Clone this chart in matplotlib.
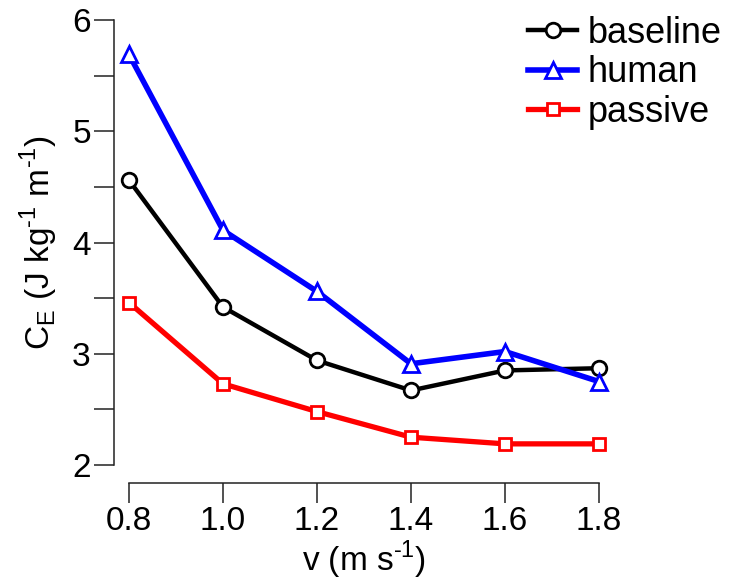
import matplotlib
matplotlib.use('Agg')
import matplotlib.pyplot as plt

plt.rcParams['font.family'] = ['Liberation Sans', 'DejaVu Sans']
plt.rcParams['mathtext.fontset'] = 'custom'
plt.rcParams['mathtext.rm'] = 'Liberation Sans'

# Datos
speed = [0.8, 1.0, 1.2, 1.4, 1.6, 1.8]
baseline = [4.56, 3.42, 2.94, 2.67, 2.85, 2.87]
human = [5.69, 4.11, 3.56, 2.91, 3.02, 2.75]
passive = [3.46, 2.73, 2.48, 2.25, 2.19, 2.19]
xticks = [0.8, 1.0, 1.2, 1.4, 1.6, 1.8]
xtick_labels = ['0.8', '1.0', '1.2', '1.4', '1.6', '1.8']
yticks = [2, 3, 4, 5, 6]

fig = plt.figure(figsize=(7.45, 5.85), dpi=100)
ax = fig.add_axes([129 / 745, (585 - 465) / 585, (599 - 129) / 745, (465 - 20) / 585])

mk = dict(markerfacecolor='white', markeredgewidth=2.0, clip_on=False)
ax.plot(speed, baseline, color='black', lw=3.2, marker='o', markersize=10.5,
        label='baseline', **mk)
ax.plot(speed, human, color='#0000ff', lw=4.0, marker='^', markersize=12,
        label='human', **mk)
ax.plot(speed, passive, color='#ff0000', lw=3.8, marker='s', markersize=9,
        label='passive', **mk)

ax.set_xlim(0.8, 1.8)
ax.set_ylim(2, 6)
ax.set_xticks(xticks)
ax.set_xticklabels(xtick_labels)
ax.set_yticks(yticks)
ax.set_yticks([2.5, 3.5, 4.5, 5.5], minor=True)

for s in ['top', 'right']:
    ax.spines[s].set_visible(False)
ax.spines['left'].set_position(('outward', 11))
ax.spines['bottom'].set_position(('outward', 13))
ax.spines['left'].set_bounds(2, 6)
ax.spines['bottom'].set_bounds(0.8, 1.8)
for s in ['left', 'bottom']:
    ax.spines[s].set_linewidth(1.1)
    ax.spines[s].set_color('#222222')

ax.tick_params(which='both', direction='out', length=14.5, width=1.1, color='#222222',
               labelsize=24, pad=2)

ax.set_xlabel(r'v (m s$^{\text{-1}}$)', fontsize=24, labelpad=1)
ax.set_ylabel(r'C$_{\text{E}}$ (J kg$^{\text{-1}}$ m$^{\text{-1}}$)',
              fontsize=24, labelpad=9)

ax.legend(loc='upper right', bbox_to_anchor=(740 / 745, 1 + 2 / 585),
          bbox_transform=fig.transFigure, frameon=False, fontsize=26,
          handlelength=1.35, handletextpad=0.3, labelspacing=0.12, borderpad=0)

fig.savefig('out.png', dpi=100)
